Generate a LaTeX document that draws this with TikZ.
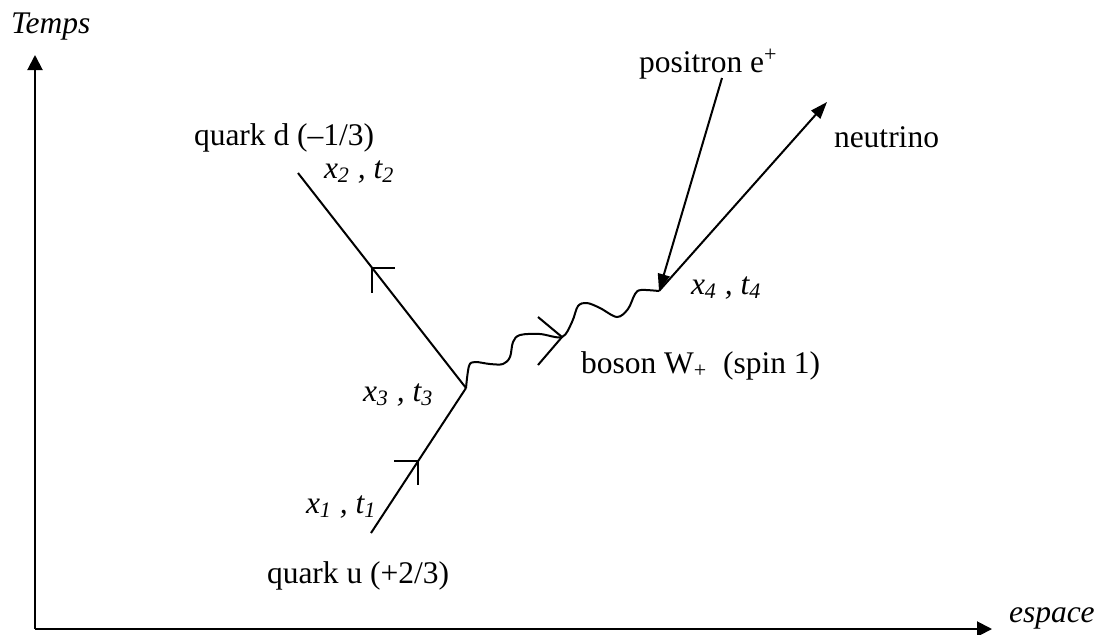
\documentclass[tikz,border=0pt]{standalone}
\usepackage{fontspec}
\setmainfont{Liberation Serif}
\usetikzlibrary{arrows.meta}
\begin{document}
\begin{tikzpicture}[x=0.5pt,y=-0.5pt, line width=1pt,
  lbl/.style={anchor=base west, inner sep=0pt, font=\fontsize{15.75}{18}\selectfont},
  ilbl/.style={anchor=base west, inner sep=0pt, font=\fontsize{15.75}{18}\selectfont\itshape},
  axisarrow/.style={-{Triangle[length=7.5pt,width=7.5pt]}},
  ptarrow/.style={-{Triangle[length=8.5pt,width=6pt]}},
  fermion/.style={line width=1pt},
  marker/.style={line width=1pt},
  boson/.style={line width=1pt},
  ]
\useasboundingbox (0,0) rectangle (1097,634);
% axes
\coordinate (O) at (35,629);
\coordinate (Ytip) at (35,55);
\coordinate (Xtip) at (992,629);
\draw[axisarrow] (O) -- (Ytip);
\draw[axisarrow] (O) -- (Xtip);
\node[ilbl] (temps) at (10,33) {Temps};
\node[ilbl] (espace) at (1008,622) {espace};
% vertices
\coordinate (d2) at (298,173);
\coordinate (v3) at (466,388);
\coordinate (u1) at (371,533);
\coordinate (v4) at (659,291);
\coordinate (pos) at (722,78);
\coordinate (nu) at (827,102);
% quark lines
\draw[fermion] (u1) -- (v3) coordinate[pos=0.495] (mu);
\draw[fermion] (v3) -- (d2) coordinate[pos=0.56] (md);
\draw[marker] (mu) -- ++(-24,0) (mu) -- ++(0,24);
\draw[marker] (md) -- ++(23,0) (md) -- ++(0,25);
% W boson wavy line
\draw[boson] plot[smooth, tension=0.55] coordinates {
  (v3) (469,366) (475,362) (490,364) (503,364) (510,357) (513,342) (520,335)
  (540,334) (562,337) (572,322) (578,306) (587,303) (600,308) (617,317)
  (628,309) (635,294) (641,290) (v4)};
\coordinate (mw) at (562,337);
\draw[marker] (538,317) -- (mw) -- (538,365);
% leptons
\draw[ptarrow] (pos) -- (v4);
\draw[ptarrow] (v4) -- (nu);
% labels
\node[lbl] (qd) at (193,145) {quark d (–1/3)};
\node[ilbl] (x2) at (323,178) {x\textsubscript{2} , t\textsubscript{2}};
\node[ilbl] (x3) at (362,401) {x\textsubscript{3} , t\textsubscript{3}};
\node[ilbl] (x1) at (305,513) {x\textsubscript{1} , t\textsubscript{1}};
\node[lbl] (qu) at (266,583) {quark u (+2/3)};
\node[lbl] (bw) at (580,373) {boson W\textsubscript{+}\ \ (spin 1)};
\node[ilbl] (x4) at (690,294) {x\textsubscript{4} , t\textsubscript{4}};
\node[lbl] (pe) at (638,72) {positron e\textsuperscript{+}};
\node[lbl] (nt) at (833,147) {neutrino};
\end{tikzpicture}
\end{document}
